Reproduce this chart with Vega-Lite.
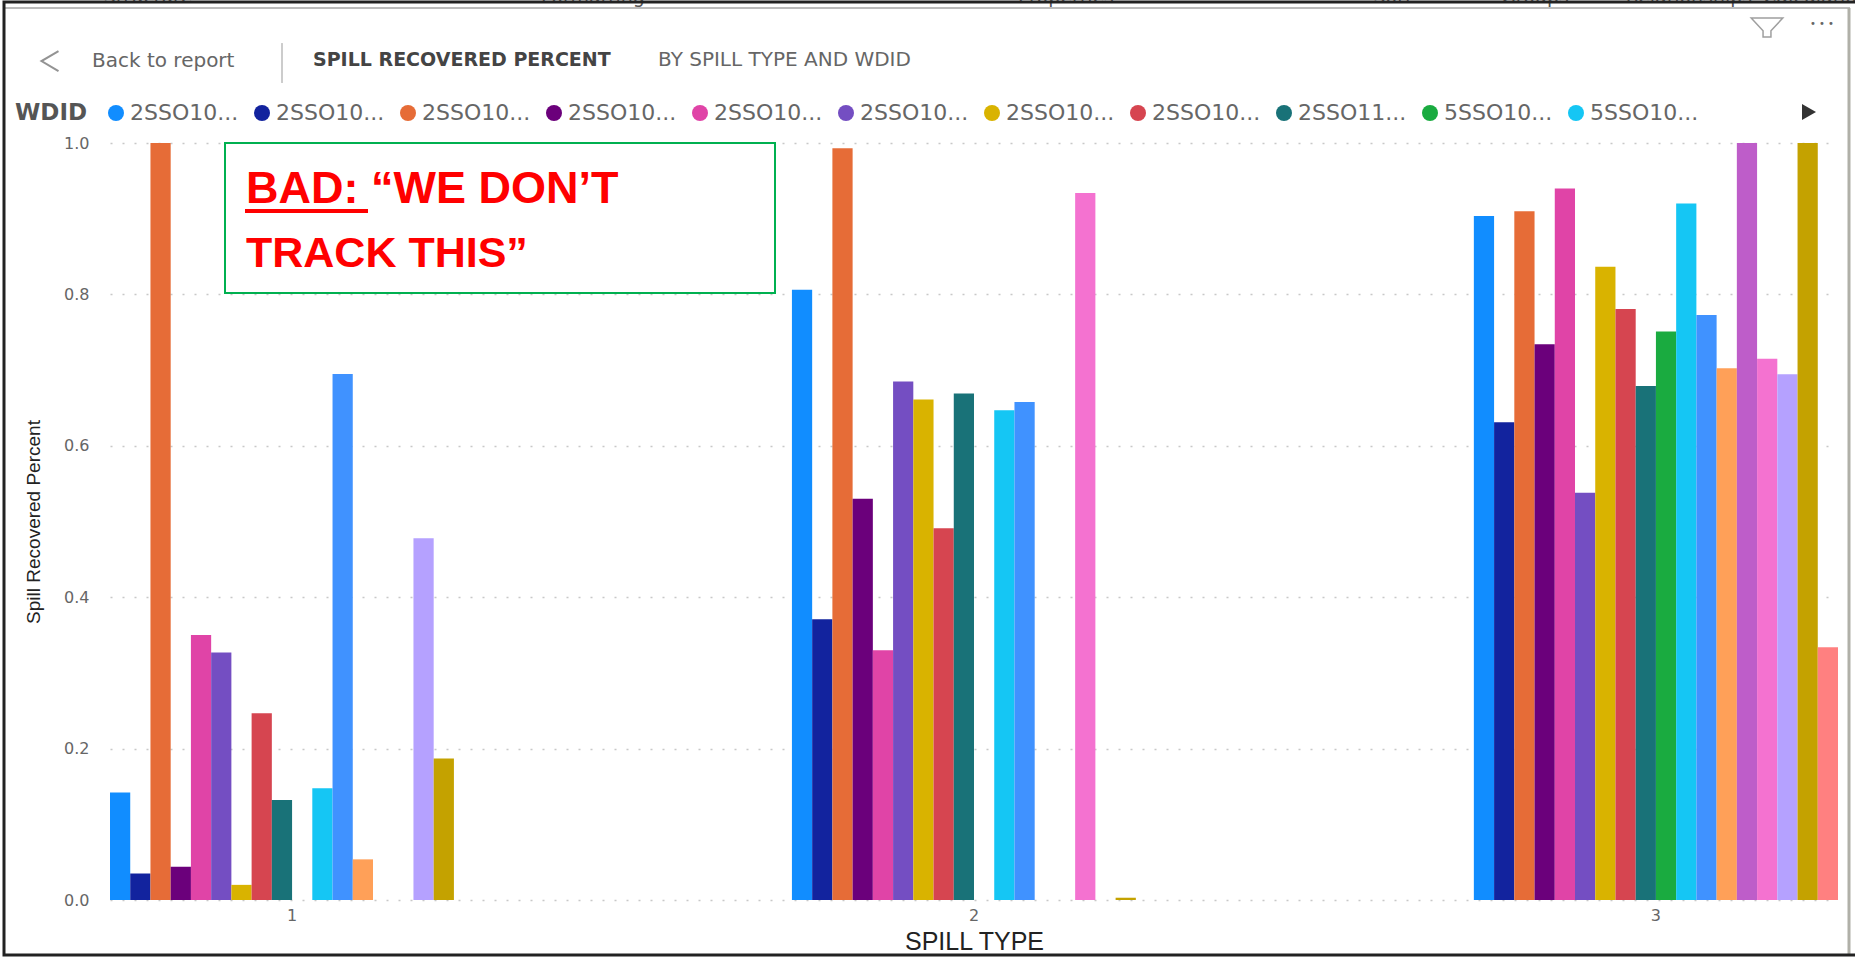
{
"$schema":"https://vega.github.io/schema/vega-lite/v6.json",
"width":1728,"height":757,
"autosize":"none",
"padding":{"left":110,"top":143,"right":17,"bottom":57},
"background":"white",
"config":{"view":{"stroke":null},"font":"DejaVu Sans"},
"layer":[
{"data":{"values":[
{"SPILL TYPE":"1","WDID":"2SSO1001","pct":0.142},{"SPILL TYPE":"1","WDID":"2SSO1002","pct":0.035},{"SPILL TYPE":"1","WDID":"2SSO1003","pct":1.0},{"SPILL TYPE":"1","WDID":"2SSO1004","pct":0.044},{"SPILL TYPE":"1","WDID":"2SSO1005","pct":0.35},{"SPILL TYPE":"1","WDID":"2SSO1006","pct":0.327},{"SPILL TYPE":"1","WDID":"2SSO1007","pct":0.02},{"SPILL TYPE":"1","WDID":"2SSO1008","pct":0.2466},{"SPILL TYPE":"1","WDID":"2SSO1101","pct":0.132},{"SPILL TYPE":"1","WDID":"5SSO1002","pct":0.1475},{"SPILL TYPE":"1","WDID":"5SSO1003","pct":0.695},{"SPILL TYPE":"1","WDID":"5SSO1004","pct":0.0537},{"SPILL TYPE":"1","WDID":"5SSO1007","pct":0.478},{"SPILL TYPE":"1","WDID":"5SSO1008","pct":0.187},
{"SPILL TYPE":"2","WDID":"2SSO1001","pct":0.806},{"SPILL TYPE":"2","WDID":"2SSO1002","pct":0.371},{"SPILL TYPE":"2","WDID":"2SSO1003","pct":0.993},{"SPILL TYPE":"2","WDID":"2SSO1004","pct":0.53},{"SPILL TYPE":"2","WDID":"2SSO1005","pct":0.33},{"SPILL TYPE":"2","WDID":"2SSO1006","pct":0.685},{"SPILL TYPE":"2","WDID":"2SSO1007","pct":0.661},{"SPILL TYPE":"2","WDID":"2SSO1008","pct":0.491},{"SPILL TYPE":"2","WDID":"2SSO1101","pct":0.669},{"SPILL TYPE":"2","WDID":"5SSO1002","pct":0.647},{"SPILL TYPE":"2","WDID":"5SSO1003","pct":0.658},{"SPILL TYPE":"2","WDID":"5SSO1006","pct":0.934},{"SPILL TYPE":"2","WDID":"5SSO1008","pct":0.003},
{"SPILL TYPE":"3","WDID":"2SSO1001","pct":0.9036},{"SPILL TYPE":"3","WDID":"2SSO1002","pct":0.631},{"SPILL TYPE":"3","WDID":"2SSO1003","pct":0.9097},{"SPILL TYPE":"3","WDID":"2SSO1004","pct":0.734},{"SPILL TYPE":"3","WDID":"2SSO1005","pct":0.94},{"SPILL TYPE":"3","WDID":"2SSO1006","pct":0.538},{"SPILL TYPE":"3","WDID":"2SSO1007","pct":0.8366},{"SPILL TYPE":"3","WDID":"2SSO1008","pct":0.7806},{"SPILL TYPE":"3","WDID":"2SSO1101","pct":0.679},{"SPILL TYPE":"3","WDID":"5SSO1001","pct":0.751},{"SPILL TYPE":"3","WDID":"5SSO1002","pct":0.92},{"SPILL TYPE":"3","WDID":"5SSO1003","pct":0.7728},{"SPILL TYPE":"3","WDID":"5SSO1004","pct":0.7023},{"SPILL TYPE":"3","WDID":"5SSO1005","pct":1.0},{"SPILL TYPE":"3","WDID":"5SSO1006","pct":0.715},{"SPILL TYPE":"3","WDID":"5SSO1007","pct":0.6945},{"SPILL TYPE":"3","WDID":"5SSO1008","pct":1.0},{"SPILL TYPE":"3","WDID":"5SSO1009","pct":0.334}
 ]},
 "mark":{"type":"bar"},
 "encoding":{
  "x":{"field":"SPILL TYPE","type":"nominal","scale":{"paddingInner":0.466,"paddingOuter":0},
   "axis":{"title":"SPILL TYPE","labelAngle":0,"domain":false,"ticks":false,"labelFont":"DejaVu Sans","labelFontSize":16,"labelColor":"#666666","labelPadding":7,"titleFont":"Liberation Sans","titleFontSize":25,"titleFontWeight":"normal","titleColor":"#222222","titlePadding":6,"grid":false}},
  "xOffset":{"field":"WDID","type":"nominal","scale":{"padding":0,"domain":["2SSO1001","2SSO1002","2SSO1003","2SSO1004","2SSO1005","2SSO1006","2SSO1007","2SSO1008","2SSO1101","5SSO1001","5SSO1002","5SSO1003","5SSO1004","5SSO1005","5SSO1006","5SSO1007","5SSO1008","5SSO1009"]}},
  "y":{"field":"pct","type":"quantitative","scale":{"domain":[0,1],"nice":false},
   "axis":{"title":"Spill Recovered Percent","values":[0,0.2,0.4,0.6,0.8,1],"format":".1f","domain":false,"ticks":false,"labelFont":"DejaVu Sans","labelFontSize":16,"labelColor":"#666666","labelPadding":21,"titleFont":"Liberation Sans","titleFontSize":19,"titleFontWeight":"normal","titleColor":"#222222","titlePadding":20,"grid":true,"gridColor":"#c8c8c8","gridDash":[2,10],"gridWidth":1.5}},
  "color":{"field":"WDID","type":"nominal","scale":{"domain":["2SSO1001","2SSO1002","2SSO1003","2SSO1004","2SSO1005","2SSO1006","2SSO1007","2SSO1008","2SSO1101","5SSO1001","5SSO1002","5SSO1003","5SSO1004","5SSO1005","5SSO1006","5SSO1007","5SSO1008","5SSO1009"],"range":["#118DFF","#12239E","#E66C37","#6B007B","#E044A7","#744EC2","#D9B300","#D64550","#197278","#1AAB40","#15C6F4","#4092FF","#FFA058","#BE5DC9","#F472D0","#B5A1FF","#C4A200","#FF8080"]},
   "legend":{"orient":"none","legendX":-95,"legendY":-41,"direction":"horizontal","columns":11,"title":"WDID","titleOrient":"left","titleFont":"DejaVu Sans","titleFontSize":23,"titleFontWeight":"bold","titleColor":"#555555","titlePadding":17,"symbolType":"circle","symbolSize":256,"symbolOpacity":1,"symbolStrokeWidth":0,"labelFont":"DejaVu Sans","labelFontSize":22,"labelColor":"#666666","labelOffset":3,"labelLimit":130,"columnPadding":12,"labelExpr":"slice(datum.label,0,6)+'...'","values":["2SSO1001","2SSO1002","2SSO1003","2SSO1004","2SSO1005","2SSO1006","2SSO1007","2SSO1008","2SSO1101","5SSO1001","5SSO1002"]}}
 }},
{"data":{"values":[{"item":"box"}]},"mark":{"type":"rect","fill":"white","stroke":"#00B050","strokeWidth":2},
 "encoding":{"x":{"datum":115,"type":"quantitative","scale":{"domain":[0,1728]},"axis":null},"x2":{"datum":665},"y":{"datum":1,"type":"quantitative","scale":{"domain":[0,1]},"axis":null},"y2":{"datum":0.802}}},
{"data":{"values":[{"label":"BAD: “WE DON’T"}]},"mark":{"type":"text","align":"left","baseline":"alphabetic","font":"Liberation Sans","fontWeight":"bold","fontSize":45,"color":"#FF0000"},
 "encoding":{"text":{"field":"label"},"x":{"datum":136,"type":"quantitative","scale":{"domain":[0,1728]},"axis":null},"y":{"datum":0.9207,"type":"quantitative","scale":{"domain":[0,1]},"axis":null}}},
{"data":{"values":[{"label":"TRACK THIS”"}]},"mark":{"type":"text","align":"left","baseline":"alphabetic","font":"Liberation Sans","fontWeight":"bold","fontSize":43,"color":"#FF0000"},
 "encoding":{"text":{"field":"label"},"x":{"datum":136,"type":"quantitative","scale":{"domain":[0,1728]},"axis":null},"y":{"datum":0.8362,"type":"quantitative","scale":{"domain":[0,1]},"axis":null}}},
{"data":{"values":[{"item":"underline"}]},"mark":{"type":"rule","color":"#FF0000","strokeWidth":4},
 "encoding":{"x":{"datum":135,"type":"quantitative","scale":{"domain":[0,1728]},"axis":null},"x2":{"datum":258},"y":{"datum":0.9102,"type":"quantitative","scale":{"domain":[0,1]},"axis":null}}},
{"data":{"values":[{"label":"Back to report"}]},"mark":{"type":"text","align":"left","baseline":"middle","font":"DejaVu Sans","fontSize":20,"color":"#666666"},
 "encoding":{"text":{"field":"label"},"x":{"datum":-18,"type":"quantitative","scale":{"domain":[0,1728]},"axis":null},"y":{"datum":1.1083,"type":"quantitative","scale":{"domain":[0,1]},"axis":null}}},
{"data":{"values":[{"label":"SPILL RECOVERED PERCENT"}]},"mark":{"type":"text","align":"left","baseline":"middle","font":"DejaVu Sans","fontWeight":"bold","fontSize":19,"color":"#444444"},
 "encoding":{"text":{"field":"label"},"x":{"datum":203,"type":"quantitative","scale":{"domain":[0,1728]},"axis":null},"y":{"datum":1.1096,"type":"quantitative","scale":{"domain":[0,1]},"axis":null}}},
{"data":{"values":[{"label":"BY SPILL TYPE AND WDID"}]},"mark":{"type":"text","align":"left","baseline":"middle","font":"DejaVu Sans","fontSize":20,"color":"#666666"},
 "encoding":{"text":{"field":"label"},"x":{"datum":548,"type":"quantitative","scale":{"domain":[0,1728]},"axis":null},"y":{"datum":1.1096,"type":"quantitative","scale":{"domain":[0,1]},"axis":null}}},
{"data":{"values":[{"item":"divider"}]},"mark":{"type":"rule","color":"#999999","strokeWidth":1},
 "encoding":{"x":{"datum":172,"type":"quantitative","scale":{"domain":[0,1728]},"axis":null},"y":{"datum":1.132,"type":"quantitative","scale":{"domain":[0,1]},"axis":null},"y2":{"datum":1.0793}}},
{"data":{"values":[{"item":"back"}]},"mark":{"type":"point","shape":"M0.85,-1L-0.85,0L0.85,1","filled":false,"size":400,"stroke":"#666666","strokeWidth":2},
 "encoding":{"x":{"datum":-60,"type":"quantitative","scale":{"domain":[0,1728]},"axis":null},"y":{"datum":1.1083,"type":"quantitative","scale":{"domain":[0,1]},"axis":null}}},
{"data":{"values":[{"item":"filter"}]},"mark":{"type":"point","shape":"M-1,-0.6L1,-0.6L0.25,0.2L0.25,0.6L-0.25,0.6L-0.25,0.2Z","filled":false,"size":1000,"stroke":"#777777","strokeWidth":1.5},
 "encoding":{"x":{"datum":1657,"type":"quantitative","scale":{"domain":[0,1728]},"axis":null},"y":{"datum":1.1525,"type":"quantitative","scale":{"domain":[0,1]},"axis":null}}},
{"data":{"values":[{"label":"• • •"}]},"mark":{"type":"text","align":"center","baseline":"middle","font":"DejaVu Sans","fontSize":10,"color":"#666666"},
 "encoding":{"text":{"field":"label"},"x":{"datum":1712,"type":"quantitative","scale":{"domain":[0,1728]},"axis":null},"y":{"datum":1.1566,"type":"quantitative","scale":{"domain":[0,1]},"axis":null}}},
{"data":{"values":[{"item":"next"}]},"mark":{"type":"point","shape":"triangle-right","filled":true,"size":260,"color":"#333333","opacity":1},
 "encoding":{"x":{"datum":1699,"type":"quantitative","scale":{"domain":[0,1728]},"axis":null},"y":{"datum":1.0409,"type":"quantitative","scale":{"domain":[0,1]},"axis":null}}},
{"data":{"values":[{"tab":"Structure","pos":38},{"tab":"Formatting","pos":483},{"tab":"Properties","pos":956},{"tab":"Sort","pos":1283},{"tab":"Groups","pos":1425},{"tab":"Relationships","pos":1579},{"tab":"Calculations","pos":1711}]},"mark":{"type":"text","align":"center","baseline":"bottom","font":"DejaVu Sans","fontSize":19,"color":"#555555"},
 "encoding":{"text":{"field":"tab"},"x":{"field":"pos","type":"quantitative","scale":{"domain":[0,1728]},"axis":null},"y":{"datum":1.1797,"type":"quantitative","scale":{"domain":[0,1]},"axis":null}}},
{"data":{"values":[{"item":"topline"}]},"mark":{"type":"rule","color":"#bbbbbb","strokeWidth":2},
 "encoding":{"x":{"datum":-105,"type":"quantitative","scale":{"domain":[0,1728]},"axis":null},"x2":{"datum":1740},"y":{"datum":1.1783,"type":"quantitative","scale":{"domain":[0,1]},"axis":null}}},
{"data":{"values":[{"item":"rightline"}]},"mark":{"type":"rule","color":"#b0b0a8","strokeWidth":3},
 "encoding":{"x":{"datum":1739,"type":"quantitative","scale":{"domain":[0,1728]},"axis":null},"y":{"datum":1.1783,"type":"quantitative","scale":{"domain":[0,1]},"axis":null},"y2":{"datum":-0.0727}}},
{"data":{"values":[{"item":"frame"}]},
 "mark":{"type":"rect","fill":null,"stroke":"#222222","strokeWidth":3},
 "encoding":{"x":{"datum":-106,"type":"quantitative","scale":{"domain":[0,1728]},"axis":null},"x2":{"datum":1760},"y":{"datum":1.1863,"type":"quantitative","scale":{"domain":[0,1]},"axis":null},"y2":{"datum":-0.0727}}}
],
"resolve":{"scale":{"x":"independent","y":"independent"}}
}
